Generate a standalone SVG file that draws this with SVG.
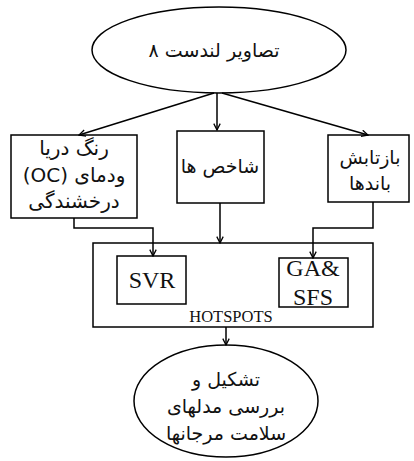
<svg xmlns="http://www.w3.org/2000/svg" width="414" height="461" viewBox="0 0 414 461">
<defs>
<marker id="ah" viewBox="0 0 10 10" refX="9" refY="5" markerWidth="8" markerHeight="8" markerUnits="userSpaceOnUse" orient="auto">
<path d="M1,1 L9,5 L1,9" fill="none" stroke="#000" stroke-width="1.6"/>
</marker>
<style>
.shape{fill:#fff;stroke:#000;stroke-width:1.5}
.fa{font-family:"DejaVu Sans","Noto Sans",sans-serif;font-size:19px;fill:#111;text-anchor:middle;direction:rtl}
.en{font-family:"Liberation Serif","Times New Roman",serif;fill:#111;text-anchor:middle}
.conn{fill:none;stroke:#000;stroke-width:1.5;marker-end:url(#ah)}
</style>
</defs>
<g id="landsat">
<ellipse class="shape" cx="219" cy="50" rx="127" ry="43"/>
<text class="fa" x="214" y="57">تصاویر لندست ۸</text>
</g>
<g id="ocean-color">
<rect class="shape" x="11" y="135" width="126" height="83"/>
<text class="fa" x="74" y="155" style="font-size:20px">رنگ دریا</text>
<text class="fa" x="74" y="182" style="font-size:20px">ودمای (OC)</text>
<text class="fa" x="74" y="208" style="font-size:20px">درخشندگی</text>
</g>
<g id="indices">
<rect class="shape" x="177" y="131" width="87" height="72"/>
<text class="fa" x="220" y="173">شاخص ها</text>
</g>
<g id="reflectance">
<rect class="shape" x="328" y="135" width="81" height="67"/>
<text class="fa" x="370" y="164">بازتابش</text>
<text class="fa" x="370" y="190">باندها</text>
</g>
<g id="hotspots">
<rect class="shape" x="93" y="243" width="280" height="84"/>
<text class="en" x="231" y="322" font-size="16.5">HOTSPOTS</text>
</g>
<g id="svr">
<rect class="shape" x="117" y="256" width="69" height="48"/>
<text class="en" x="152" y="288" font-size="24">SVR</text>
</g>
<g id="ga-sfs">
<rect class="shape" x="279" y="258" width="69" height="49"/>
<text class="en" x="313" y="276" font-size="24">GA&amp;</text>
<text class="en" x="313" y="305" font-size="24">SFS</text>
</g>
<g id="coral-health">
<ellipse class="shape" cx="226" cy="401" rx="92" ry="56"/>
<text class="fa" x="226" y="386">تشکیل و</text>
<text class="fa" x="226" y="413">بررسی مدلهای</text>
<text class="fa" x="226" y="440">سلامت مرجانها</text>
</g>
<g id="connectors">
<path class="conn" d="M217,93 L217,130"/>
<path class="conn" d="M214,93 L79,135"/>
<path class="conn" d="M222,93 L368,135"/>
<path class="conn" d="M74,218 L74,228 L153,228 L153,256"/>
<path class="conn" d="M220,203 L220,243"/>
<path class="conn" d="M373,202 L373,228 L313,228 L313,258"/>
<path class="conn" d="M226,327 L226,345"/>
</g>
</svg>
